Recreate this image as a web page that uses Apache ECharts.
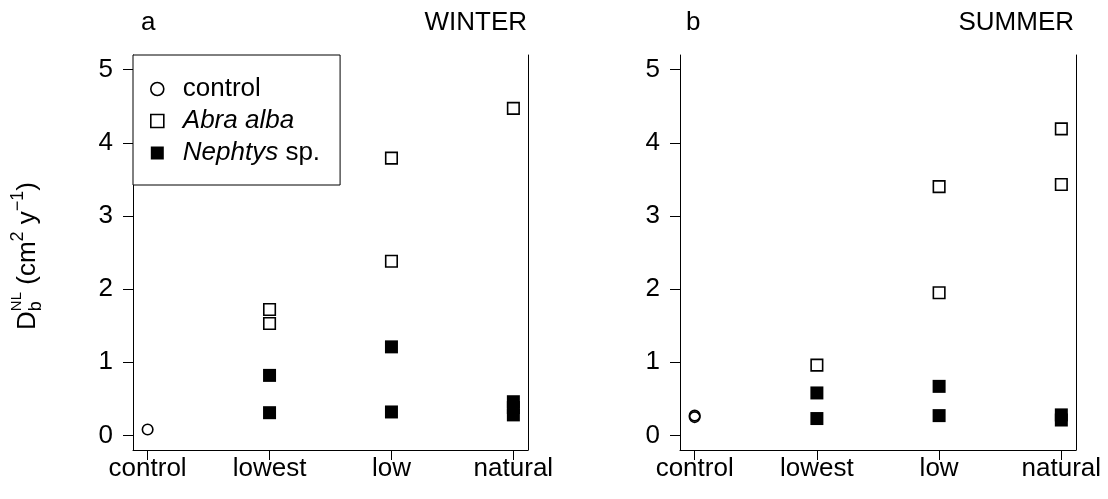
<!DOCTYPE html>
<html>
<head>
<meta charset="utf-8">
<script src="https://cdn.jsdelivr.net/npm/echarts@6/dist/echarts.min.js"></script>
<style>
html,body{margin:0;padding:0;background:#fff;}
#chart{width:1108px;height:499px;}
</style>
</head>
<body>
<div id="chart"></div>
<script>
// ---- data ----
const categories = ['control', 'lowest', 'low', 'natural'];
const yTicks = [0, 1, 2, 3, 4, 5];

const winterControlCats = ['control'];
const winterControlVals = [0.08];
const winterAbraCats = ['lowest', 'lowest', 'low', 'low', 'natural'];
const winterAbraVals = [1.72, 1.53, 3.79, 2.38, 4.47];
const winterNephCats = ['lowest', 'lowest', 'low', 'low', 'natural', 'natural', 'natural'];
const winterNephVals = [0.82, 0.31, 1.21, 0.32, 0.46, 0.38, 0.28];

const summerControlCats = ['control', 'control'];
const summerControlVals = [0.25, 0.27];
const summerAbraCats = ['lowest', 'low', 'low', 'natural', 'natural'];
const summerAbraVals = [0.96, 3.40, 1.95, 4.19, 3.43];
const summerNephCats = ['lowest', 'lowest', 'low', 'low', 'natural', 'natural'];
const summerNephVals = [0.58, 0.23, 0.67, 0.27, 0.28, 0.21];

// ---- helpers ----
const FONT = '"Liberation Sans", Arial, sans-serif';
const FS = 26;
function pts(cats, vals) { return cats.map((c, i) => [categories.indexOf(c) + 1, vals[i]]); }

const xTickVals = categories.map((c, i) => i + 1);
const XMIN = 0.88, XMAX = 4.12, YMIN = -0.2, YMAX = 5.2;

function xAxis(gridIndex) {
  return {
    type: 'value', gridIndex, min: XMIN, max: XMAX,
    axisLine: { show: true, onZero: false, lineStyle: { color: '#000', width: 1 } },
    axisTick: { show: true, length: 10, customValues: xTickVals, lineStyle: { color: '#000', width: 1 } },
    axisLabel: { show: true, customValues: xTickVals, margin: 6, color: '#000', fontSize: FS, fontFamily: FONT,
      formatter: v => categories[Math.round(v) - 1] || '' },
    splitLine: { show: false }
  };
}
function yAxisLeft(gridIndex) {
  return {
    type: 'value', gridIndex, min: YMIN, max: YMAX, position: 'left',
    axisLine: { show: true, onZero: false, lineStyle: { color: '#000', width: 1 } },
    axisTick: { show: true, length: 10, customValues: yTicks, lineStyle: { color: '#000', width: 1 } },
    axisLabel: { show: true, customValues: yTicks, margin: 20, color: '#000', fontSize: FS, fontFamily: FONT },
    splitLine: { show: false }
  };
}
function yAxisRight(gridIndex) {
  return {
    type: 'value', gridIndex, min: YMIN, max: YMAX, position: 'right',
    axisLine: { show: true, onZero: false, lineStyle: { color: '#000', width: 1 } },
    axisTick: { show: false }, axisLabel: { show: false }, splitLine: { show: false }
  };
}

const openStyle = { color: 'rgba(255,255,255,0)', borderColor: '#000', borderWidth: 1.6, opacity: 1 };
const filledStyle = { color: '#000', borderWidth: 0, opacity: 1 };

function series(name, data, xi, yi, symbol, size, style) {
  return { type: 'scatter', name, xAxisIndex: xi, yAxisIndex: yi, data, symbol, symbolSize: size,
    itemStyle: style, emphasis: { disabled: true }, z: 3 };
}

// y axis label (rotated, with sub/superscripts)
const mc = document.createElement('canvas').getContext('2d');
function tw(t, fs) { mc.font = fs + 'px ' + FONT; return mc.measureText(t).width; }
const SFS = 18;
const parts = [
  { t: 'D', fs: FS, dy: 0 },
  { stack: true },
  { t: ' (cm', fs: FS, dy: 0 },
  { t: '2', fs: SFS, dy: -10 },
  { t: ' y', fs: FS, dy: 0 },
  { t: '\u22121', fs: SFS, dy: -10 },
  { t: ')', fs: FS, dy: 0 }
];
let total = 0;
parts.forEach(p => { p.w = p.stack ? Math.max(tw('NL', 15), tw('b', SFS)) : tw(p.t, p.fs); total += p.w; });
let cx = -total / 2;
const labelChildren = [];
parts.forEach(p => {
  if (p.stack) {
    labelChildren.push({ type: 'text', x: cx, y: -11, style: { text: 'NL', font: '15px ' + FONT, fill: '#000', verticalAlign: 'middle', align: 'left' } });
    labelChildren.push({ type: 'text', x: cx, y: 8, style: { text: 'b', font: SFS + 'px ' + FONT, fill: '#000', verticalAlign: 'middle', align: 'left' } });
  } else {
    labelChildren.push({ type: 'text', x: cx, y: p.dy, style: { text: p.t, font: p.fs + 'px ' + FONT, fill: '#000', verticalAlign: 'middle', align: 'left' } });
  }
  cx += p.w;
});

const titleStyle = { fontSize: FS, fontWeight: 'normal', color: '#000', fontFamily: FONT };
const option = {
  animation: false,
  backgroundColor: '#fff',
  textStyle: { fontFamily: FONT },
  title: [
    { text: 'a', left: 141, top: 10, padding: 0, textStyle: titleStyle },
    { text: 'WINTER', right: 581, top: 10, padding: 0, textStyle: titleStyle },
    { text: 'b', left: 686, top: 10, padding: 0, textStyle: titleStyle },
    { text: 'SUMMER', right: 34, top: 10, padding: 0, textStyle: titleStyle }
  ],
  grid: [
    { left: 133, top: 55, width: 395, height: 395 },
    { left: 680, top: 55, width: 396, height: 395 }
  ],
  xAxis: [xAxis(0), xAxis(1)],
  yAxis: [yAxisLeft(0), yAxisRight(0), yAxisLeft(1), yAxisRight(1)],
  legend: {
    orient: 'vertical', left: 133, top: 55,
    padding: [18, 20, 16, 17], itemGap: 0, itemWidth: 13, itemHeight: 13,
    borderColor: '#000', borderWidth: 1, backgroundColor: '#fff',
    selectedMode: false,
    textStyle: { fontSize: FS, lineHeight: 32, color: '#000', fontFamily: FONT,
      rich: {
        n: { fontSize: FS, lineHeight: 32, padding: [0, 0, 0, 14], fontFamily: FONT, color: '#000' },
        i: { fontSize: FS, lineHeight: 32, padding: [0, 0, 0, 14], fontStyle: 'italic', fontFamily: FONT, color: '#000' },
        s: { fontSize: FS, lineHeight: 32, fontFamily: FONT, color: '#000' }
      } },
    formatter: name => name === 'control' ? '{n|control}' : name === 'Abra alba' ? '{i|Abra alba}' : '{i|Nephtys}{s| sp.}',
    data: [
      { name: 'control', icon: 'circle', itemStyle: { color: 'rgba(255,255,255,0)', borderColor: '#000', borderWidth: 1.6, opacity: 1 } },
      { name: 'Abra alba', icon: 'rect', itemStyle: { color: 'rgba(255,255,255,0)', borderColor: '#000', borderWidth: 1.6, opacity: 1 } },
      { name: 'Nephtys sp.', icon: 'rect', itemStyle: { color: '#000', borderWidth: 0, opacity: 1 } }
    ]
  },
  graphic: [
    { type: 'group', x: 28, y: 256, rotation: Math.PI / 2, children: labelChildren }
  ],
  series: [
    series('control', pts(winterControlCats, winterControlVals), 0, 0, 'circle', 10.5, openStyle),
    series('Abra alba', pts(winterAbraCats, winterAbraVals), 0, 0, 'rect', 11.5, openStyle),
    series('Nephtys sp.', pts(winterNephCats, winterNephVals), 0, 0, 'rect', 13, filledStyle),
    series('control', pts(summerControlCats, summerControlVals), 1, 2, 'circle', 10.5, openStyle),
    series('Abra alba', pts(summerAbraCats, summerAbraVals), 1, 2, 'rect', 11.5, openStyle),
    series('Nephtys sp.', pts(summerNephCats, summerNephVals), 1, 2, 'rect', 13, filledStyle)
  ]
};

const chart = echarts.init(document.getElementById('chart'), null, { renderer: 'canvas' });
chart.setOption(option);
</script>
</body>
</html>
